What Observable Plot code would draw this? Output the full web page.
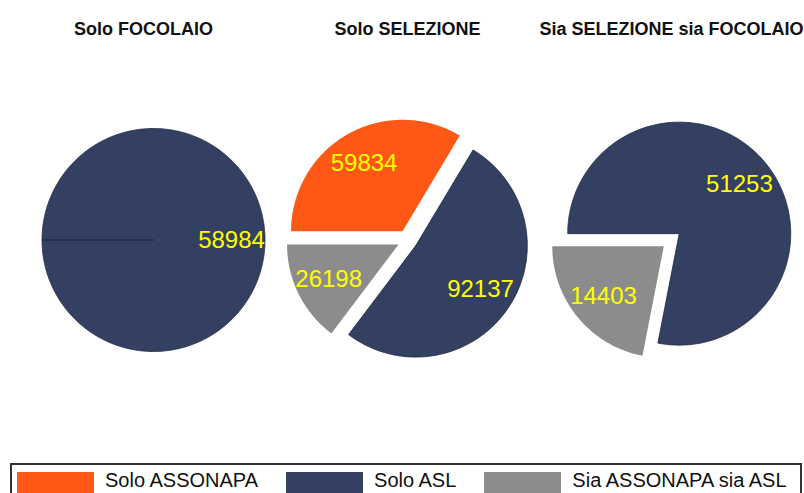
<!DOCTYPE html>
<html><head><meta charset="utf-8">
<script src="https://cdn.jsdelivr.net/npm/d3@7"></script>
<script src="https://cdn.jsdelivr.net/npm/@observablehq/plot@0.6"></script>
<style>
html,body{margin:0;padding:0;background:#fff;overflow:hidden;}
#chart svg{overflow:hidden;display:block;}
#legend{position:absolute;left:10px;top:463px;width:792px;height:46px;border:2px solid #333;box-sizing:border-box;display:flex;padding:7px 0 0 5px;font:20px "Liberation Sans",Arial,sans-serif;color:#111;}
#legend .item{display:flex;align-items:flex-start;margin-right:28px;}
#legend .sw{display:inline-block;width:77px;height:28px;margin-right:11px;}
#legend .lab{line-height:22px;margin-top:-3px;white-space:nowrap;}
</style></head><body>
<div id="chart"></div>
<div id="legend"></div>
<script>
// ---- data ----
const pieNames = ["Solo FOCOLAIO", "Solo SELEZIONE", "Sia SELEZIONE sia FOCOLAIO"];
const categories = ["Solo ASSONAPA", "Solo ASL", "Sia ASSONAPA sia ASL"];
const colors = ["#FF5716", "#334061", "#8C8C8C"];
const soloFocolaio = [0, 58984, 0];
const soloSelezione = [59834, 92137, 26198];
const siaSelezioneSiaFocolaio = [0, 51253, 14403];
const pieValues = [soloFocolaio, soloSelezione, siaSelezioneSiaFocolaio];

// ---- geometry (layout) ----
const R = 111.5, EXPLODE = 10, LABEL_POS = 0.7;
const polys = [], labels = [];
pieNames.forEach((name, p) => {
  const items = categories.map((c, i) => ({cat: c, value: pieValues[p][i]})).filter(d => d.value > 0);
  const arcs = d3.pie().sort(null).value(d => d.value)
    .startAngle(-Math.PI / 2).endAngle(3 * Math.PI / 2)(items);
  arcs.forEach(a => {
    const mid = (a.startAngle + a.endAngle) / 2;
    const ox = Math.sin(mid) * EXPLODE, oy = Math.cos(mid) * EXPLODE;
    const key = name + "|" + a.data.cat;
    const n = Math.max(2, Math.ceil((a.endAngle - a.startAngle) / 0.01));
    polys.push({pie: name, cat: a.data.cat, key, x: ox, y: oy});
    for (let k = 0; k <= n; k++) {
      const t = a.startAngle + (a.endAngle - a.startAngle) * k / n;
      polys.push({pie: name, cat: a.data.cat, key, x: ox + Math.sin(t) * R, y: oy + Math.cos(t) * R});
    }
    polys.push({pie: name, cat: a.data.cat, key, x: ox, y: oy});
    labels.push({pie: name, text: String(a.data.value),
      x: ox + Math.sin(mid) * R * LABEL_POS, y: oy + Math.cos(mid) * R * LABEL_POS});
  });
});

const CY = 239.5, H = 463;
const chart = Plot.plot({
  width: 804, height: H,
  marginLeft: 10.5, marginRight: 1.5, marginTop: 0, marginBottom: 0,
  fx: {domain: pieNames, padding: 0, axis: null},
  x: {domain: [-132, 132], axis: null},
  y: {domain: [CY - H, CY], axis: null},
  color: {domain: categories, range: colors},
  style: {fontFamily: "'Liberation Sans', Arial, sans-serif", background: "white", overflow: "hidden"},
  marks: [
    Plot.line(polys, {fx: "pie", x: "x", y: "y", z: "key", fill: "cat", stroke: "none", curve: "linear"}),
    Plot.line(polys.filter(d => d.cat === categories[1]), {fx: "pie", x: "x", y: "y", z: "key", stroke: "#1f2842", strokeWidth: 1, strokeOpacity: 0.8, curve: "linear"}),
    Plot.text(labels, {fx: "pie", x: "x", y: "y", text: "text", fill: "#FFFF00", fontSize: 24}),
    Plot.text(pieNames, {fx: d => d, text: d => d, frameAnchor: "top", dy: 22, fontWeight: "bold", fontSize: 18, fill: "#111"})
  ]
});
document.getElementById("chart").appendChild(chart);

// ---- legend ----
const legend = document.getElementById("legend");
categories.forEach((c, i) => {
  const item = document.createElement("div");
  item.className = "item";
  const sw = document.createElement("span");
  sw.className = "sw"; sw.style.background = colors[i];
  const lab = document.createElement("span");
  lab.className = "lab"; lab.textContent = c;
  item.appendChild(sw); item.appendChild(lab);
  legend.appendChild(item);
});
</script>
</body></html>
